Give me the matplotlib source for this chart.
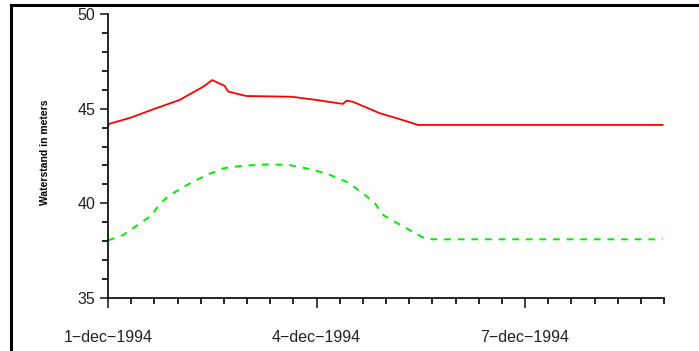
import matplotlib.pyplot as plt
from matplotlib.lines import Line2D
from matplotlib.ticker import MultipleLocator

# water level upstream (solid red), days since 1-dec-1994
red_days = [0.0, 0.02, 0.34, 0.60, 1.03, 1.37, 1.50, 1.68, 1.73, 1.99,
            2.64, 3.00, 3.38, 3.43, 3.52, 3.91, 4.24, 4.46, 7.98]
red_level = [44.10, 44.20, 44.54, 44.90, 45.46, 46.16, 46.51, 46.20, 45.90, 45.67,
             45.63, 45.46, 45.25, 45.42, 45.37, 44.76, 44.40, 44.14, 44.14]

# water level downstream (dashed green)
green_days = [0.0, 0.22, 0.46, 0.63, 0.75, 0.89, 1.18, 1.42, 1.66, 1.94,
              2.33, 2.61, 2.85, 3.14, 3.43, 3.67, 3.84, 3.96, 4.10, 4.34,
              4.53, 4.67, 7.98]
green_level = [38.04, 38.33, 38.94, 39.38, 40.00, 40.44, 41.06, 41.50, 41.85, 41.99,
               42.06, 42.02, 41.85, 41.58, 41.14, 40.53, 40.00, 39.38, 39.08, 38.59,
               38.20, 38.10, 38.10]

date_ticks = [0, 3, 6]
date_labels = ['1\u2212dec\u22121994', '4\u2212dec\u22121994', '7\u2212dec\u22121994']

plt.rcParams['font.family'] = ['Liberation Sans', 'DejaVu Sans']

fig = plt.figure(figsize=(6.99, 3.51), dpi=100)
ax = fig.add_axes([108 / 699, 1 - 298 / 351, (664 - 108) / 699, (298 - 14) / 351])

ax.plot(red_days, red_level, color='#ff0000', linewidth=1.3)
ax.plot(green_days, green_level, color='#00ee00', linewidth=1.4, dashes=(3.5, 3.5))

ax.set_xlim(0, 8)
ax.set_ylim(35, 50)
ax.spines['top'].set_visible(False)
ax.spines['right'].set_visible(False)
for s in ('left', 'bottom'):
    ax.spines[s].set_linewidth(1.2)

ax.set_xticks(date_ticks)
ax.set_xticklabels(date_labels)
ax.xaxis.set_minor_locator(MultipleLocator(1 / 3))
ax.set_yticks([35, 40, 45, 50])
ax.yaxis.set_minor_locator(MultipleLocator(1))

ax.tick_params(axis='x', which='major', length=7, width=1.2, pad=16, labelsize=11.5, colors='#222222')
ax.tick_params(axis='x', which='minor', length=4, width=1.2)
ax.tick_params(axis='y', which='major', length=6, width=1.2, pad=3, labelsize=11.5, colors='#222222')
ax.tick_params(axis='y', which='minor', length=4, width=1.2)

fig.text(45 / 699, 1 - 152 / 351, 'Waterstand in meters', rotation=90,
         ha='center', va='center', fontsize=7.5, fontweight='bold',
         family=['Liberation Sans Narrow', 'Liberation Sans', 'DejaVu Sans'])

# outer frame: top and left edges only
fig.add_artist(Line2D([11 / 699, 1.0], [1 - 5 / 351, 1 - 5 / 351],
                      transform=fig.transFigure, color='black', linewidth=2.2))
fig.add_artist(Line2D([11 / 699, 11 / 699], [0.0, 1 - 5 / 351],
                      transform=fig.transFigure, color='black', linewidth=2.2))

fig.savefig('out.png', dpi=100)
